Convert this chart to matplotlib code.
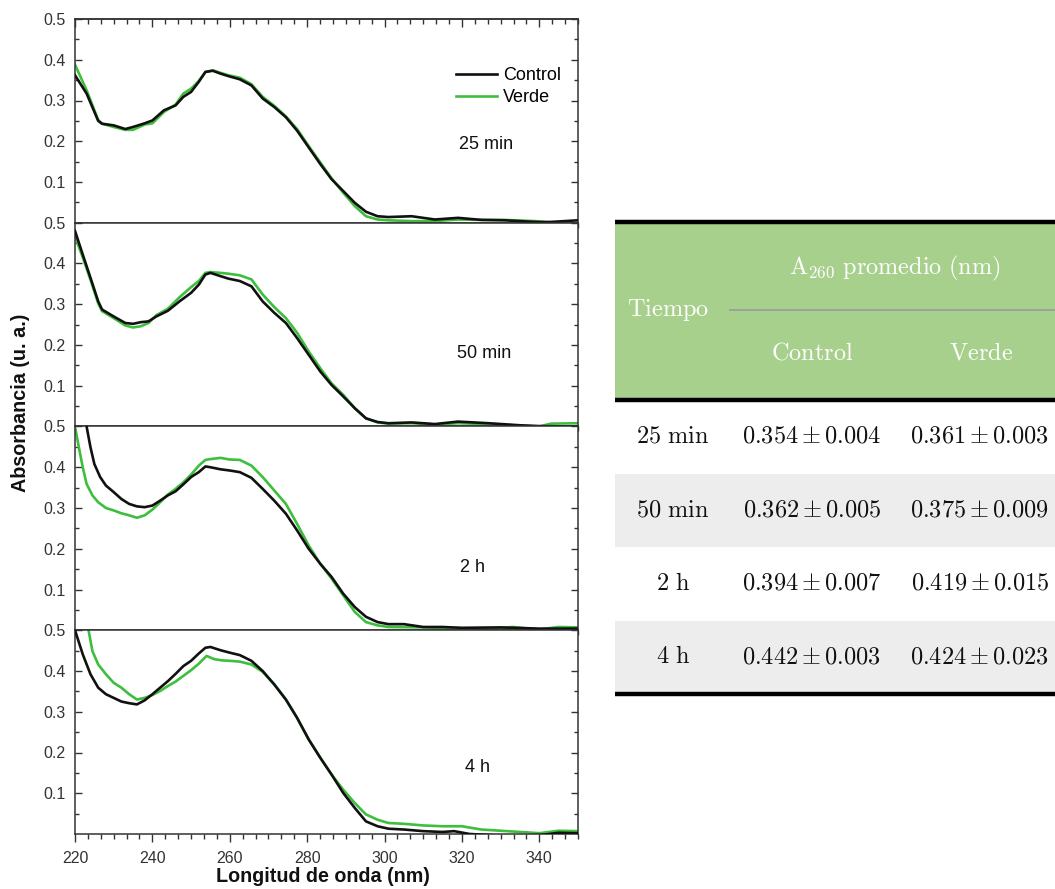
import numpy as np
import matplotlib
matplotlib.use('Agg')
import matplotlib.pyplot as plt
from matplotlib.ticker import MultipleLocator, FixedLocator

plt.rcParams['font.family'] = ['Liberation Sans', 'DejaVu Sans']
plt.rcParams['mathtext.fontset'] = 'cm'

# ---- spectra (nm, absorbance) ----
labels = ['25 min', '50 min', '2 h', '4 h']

wl_c1 = [220, 223, 226, 227, 230, 233, 235, 238, 240, 243, 246, 248, 250, 252, 253.7, 255.6, 257.6, 259.6,
         262.6, 265.6, 268.5, 271.5, 274.5, 277.4, 280.4, 283.4, 286.3, 289.3, 292.3, 295.2, 298.2, 301,
         307, 313, 319, 325, 331, 339, 343, 350]
ab_c1 = [0.362, 0.317, 0.25, 0.243, 0.239, 0.230, 0.235, 0.244, 0.251, 0.276, 0.288, 0.309, 0.321, 0.346,
         0.370, 0.373, 0.366, 0.360, 0.352, 0.337, 0.305, 0.284, 0.259, 0.226, 0.185, 0.144, 0.107, 0.078,
         0.049, 0.027, 0.016, 0.014, 0.016, 0.008, 0.012, 0.007, 0.006, 0.002, 0.002, 0.006]
wl_v1 = [220, 223, 226, 227, 230, 233, 235, 238, 240, 243, 246, 248, 250, 252, 253.7, 255.6, 257.6, 259.6,
         262.6, 265.6, 268.5, 271.5, 274.5, 277.4, 280.4, 283.4, 286.3, 289.3, 292.3, 295.2, 298.2, 301,
         307, 313, 319, 325, 331, 339, 341]
ab_v1 = [0.388, 0.325, 0.252, 0.243, 0.235, 0.228, 0.228, 0.241, 0.244, 0.272, 0.290, 0.317, 0.329, 0.348,
         0.370, 0.374, 0.368, 0.362, 0.356, 0.340, 0.309, 0.287, 0.261, 0.230, 0.188, 0.148, 0.109, 0.074,
         0.041, 0.016, 0.008, 0.006, 0.004, 0.004, 0.008, 0.007, 0.007, 0.004, 0.002]

wl_c2 = [220, 222, 224, 226, 227, 230, 233, 235, 237, 239, 241, 244, 247, 250, 252, 253.7, 255, 257.6,
         259.6, 262.6, 265.6, 268.5, 271.5, 274.5, 277.4, 280.4, 283.4, 286.3, 289.3, 292.3, 295.2, 298.2,
         301, 307, 313, 319, 327, 335, 340, 350]
ab_c2 = [0.48, 0.422, 0.365, 0.307, 0.287, 0.270, 0.254, 0.252, 0.256, 0.258, 0.270, 0.284, 0.307, 0.328,
         0.348, 0.373, 0.377, 0.369, 0.363, 0.357, 0.344, 0.307, 0.279, 0.254, 0.217, 0.176, 0.135, 0.102,
         0.074, 0.045, 0.020, 0.011, 0.008, 0.010, 0.006, 0.012, 0.008, 0.003, 0.001, 0.0]
wl_v2 = [220, 222, 224, 226, 227, 230, 233, 235, 237, 239, 241, 244, 247, 250, 252, 253.7, 255, 257.6,
         259.6, 262.6, 265.6, 268.5, 271.5, 274.5, 277.4, 280.4, 283.4, 286.3, 289.3, 292.3, 295.2, 298.2,
         301, 307, 313, 319, 327, 335, 340, 343, 350]
ab_v2 = [0.467, 0.415, 0.36, 0.302, 0.283, 0.266, 0.248, 0.243, 0.246, 0.254, 0.273, 0.289, 0.317, 0.342,
         0.357, 0.377, 0.379, 0.377, 0.375, 0.371, 0.361, 0.324, 0.293, 0.266, 0.230, 0.184, 0.143, 0.106,
         0.078, 0.045, 0.020, 0.010, 0.007, 0.008, 0.005, 0.008, 0.006, 0.002, 0.0, 0.007, 0.008]

wl_c3 = [220, 222, 223, 224, 225, 226.5, 228, 230, 232, 234, 236, 238, 240, 242, 244, 246, 248, 250, 252,
         253.7, 255, 257.6, 260, 262.6, 265.6, 268.5, 271.5, 274.5, 277.4, 280.4, 283.4, 286.3, 289.3, 292.3,
         295.2, 298.2, 301, 305, 310, 315, 320, 330, 340, 350]
ab_c3 = [0.62, 0.54, 0.50, 0.449, 0.408, 0.376, 0.355, 0.339, 0.322, 0.310, 0.304, 0.302, 0.306, 0.318,
         0.331, 0.341, 0.358, 0.376, 0.388, 0.402, 0.400, 0.395, 0.392, 0.388, 0.374, 0.347, 0.318, 0.286,
         0.245, 0.200, 0.163, 0.131, 0.090, 0.057, 0.033, 0.020, 0.015, 0.015, 0.008, 0.008, 0.006, 0.007,
         0.004, 0.004]
wl_v3 = [219, 220, 221, 222, 223, 224.5, 226, 228, 230, 232, 234, 236, 238, 240, 242, 244, 246, 248, 250,
         252, 253.7, 255, 257.6, 260, 262.6, 265.6, 268.5, 271.5, 274.5, 277.4, 280.4, 283.4, 286.3, 289.3,
         292.3, 295.2, 298.2, 301, 310, 320, 327, 333, 340, 345, 350]
ab_v3 = [0.56, 0.50, 0.449, 0.40, 0.359, 0.331, 0.314, 0.300, 0.294, 0.287, 0.282, 0.276, 0.282, 0.296,
         0.314, 0.333, 0.347, 0.363, 0.382, 0.404, 0.418, 0.420, 0.423, 0.419, 0.418, 0.404, 0.376, 0.343,
         0.310, 0.261, 0.208, 0.163, 0.127, 0.086, 0.045, 0.020, 0.012, 0.008, 0.007, 0.004, 0.002, 0.008,
         0.002, 0.008, 0.007]

wl_c4 = [219, 220, 222, 224, 226, 228, 230, 232, 234, 236, 238, 240, 242, 244, 246, 248, 250, 252, 253.7,
         255, 257.6, 260, 262.6, 265.6, 268.5, 271.5, 274.5, 277.4, 280.4, 283.4, 286.3, 289.3, 292.3, 295.2,
         298.2, 301, 305, 310, 315, 318, 322, 330, 340, 345, 350]
ab_c4 = [0.54, 0.50, 0.441, 0.392, 0.359, 0.343, 0.334, 0.325, 0.321, 0.318, 0.328, 0.343, 0.359, 0.375,
         0.393, 0.412, 0.425, 0.443, 0.457, 0.459, 0.451, 0.445, 0.439, 0.425, 0.400, 0.367, 0.330, 0.285,
         0.232, 0.187, 0.146, 0.101, 0.064, 0.031, 0.019, 0.013, 0.011, 0.007, 0.005, 0.007, 0.0, -0.004,
         -0.003, 0.003, 0.002]
wl_v4 = [222.5, 223.5, 224.5, 226, 228, 230, 232, 234, 236, 238, 240, 242, 244, 246, 248, 250, 252, 254, 256,
         258, 260, 262.6, 265.6, 268.5, 271.5, 274.5, 277.4, 280.4, 283.4, 286.3, 289.3, 292.3, 295.2, 298.2,
         301, 305, 310, 315, 320, 325, 330, 335, 340, 345, 350]
ab_v4 = [0.55, 0.50, 0.449, 0.416, 0.392, 0.371, 0.359, 0.343, 0.330, 0.334, 0.341, 0.351, 0.363, 0.374,
         0.388, 0.402, 0.418, 0.437, 0.429, 0.426, 0.425, 0.423, 0.416, 0.398, 0.367, 0.330, 0.285, 0.232,
         0.187, 0.146, 0.109, 0.076, 0.048, 0.035, 0.027, 0.025, 0.021, 0.019, 0.019, 0.011, 0.008, 0.005,
         0.002, 0.008, 0.007]

control = [(wl_c1, ab_c1), (wl_c2, ab_c2), (wl_c3, ab_c3), (wl_c4, ab_c4)]
verde = [(wl_v1, ab_v1), (wl_v2, ab_v2), (wl_v3, ab_v3), (wl_v4, ab_v4)]

# ---- table values ----
tiempos = ['25 min', '50 min', '2 h', '4 h']
ctrl_mean = ['0.354', '0.362', '0.394', '0.442']
ctrl_sd = ['0.004', '0.005', '0.007', '0.003']
verde_mean = ['0.361', '0.375', '0.419', '0.424']
verde_sd = ['0.003', '0.009', '0.015', '0.023']

W, H = 1055, 889
fig = plt.figure(figsize=(W / 100, H / 100), dpi=100)

left, right = 75, 578
top, bottom = 19, 834
ph = (bottom - top) / 4
lab_pos = [(0.817, 0.386), (0.813, 0.359), (0.79, 0.31), (0.80, 0.325)]
black = '#111111'
green = '#3dbf3d'
tcol = '#333333'
xmaj = [220, 240, 260, 280, 300, 320, 340]

for i in range(4):
    y0 = top + i * ph
    ax = fig.add_axes([left / W, 1 - (y0 + ph) / H, (right - left) / W, ph / H])
    ax.plot(*control[i], color=black, lw=1.9, label='Control', zorder=3)
    ax.plot(*verde[i], color=green, lw=1.9, label='Verde', zorder=2)
    ax.set_xlim(220, 350)
    ax.set_ylim(0, 0.5)
    ax.xaxis.set_major_locator(FixedLocator(xmaj))
    ax.xaxis.set_minor_locator(MultipleLocator(20 / 6))
    ax.set_yticks([0.1, 0.2, 0.3, 0.4, 0.5])
    ax.set_yticklabels(['0.1', '0.2', '0.3', '0.4', '0.5'])
    ax.yaxis.set_minor_locator(FixedLocator([0.05, 0.15, 0.25, 0.35, 0.45]))
    ax.tick_params(axis='y', which='both', direction='in', left=True, right=True,
                   labelsize=11.5, labelcolor=tcol, color=tcol, pad=7)
    ax.tick_params(axis='y', which='major', length=5, width=1)
    ax.tick_params(axis='y', which='minor', length=3, width=1)
    ax.tick_params(axis='x', which='both', direction='out', top=False, bottom=True,
                   labelsize=11.5, labelcolor=tcol, color=tcol, pad=6)
    ax.tick_params(axis='x', which='major', length=6, width=1)
    ax.tick_params(axis='x', which='minor', length=3.5, width=1)
    if i == 0:
        sec = ax.secondary_xaxis('top')
        sec.xaxis.set_major_locator(FixedLocator(xmaj))
        sec.xaxis.set_minor_locator(MultipleLocator(20 / 6))
        sec.tick_params(which='both', direction='in', labeltop=False, color=tcol, width=1)
        sec.tick_params(which='major', length=6)
        sec.tick_params(which='minor', length=3.5)
        sec.spines['top'].set_color(tcol)
        sec.spines['top'].set_linewidth(1.1)
    if i < 3:
        ax.tick_params(axis='x', labelbottom=False)
    for s in ax.spines.values():
        s.set_color(tcol)
        s.set_linewidth(1.1)
    ax.text(lab_pos[i][0], lab_pos[i][1], labels[i], transform=ax.transAxes,
            ha='center', va='center', fontsize=13, color='#111111')
    if i == 0:
        ax.legend(loc='upper left', bbox_to_anchor=(0.757, 0.765), frameon=False, fontsize=13,
                  handlelength=2.3, handletextpad=0.3, labelspacing=0.28, borderaxespad=0,
                  borderpad=0)

fig.text(21 / W, 1 - 403 / H, 'Absorbancia (u. a.)', rotation=90, ha='center', va='center',
         fontsize=14.2, fontweight='bold', color='#111111')
fig.text(323 / W, 1 - 876 / H, 'Longitud de onda (nm)', ha='center', va='center',
         fontsize=14.2, fontweight='bold', color='#111111')

# ---- table on the right ----
tx0, tx1 = 615, 1055
ty0, ty1 = 218, 702
tab = fig.add_axes([tx0 / W, 1 - ty1 / H, (tx1 - tx0) / W, (ty1 - ty0) / H])
tab.set_xlim(tx0, tx1)
tab.set_ylim(ty1, ty0)
tab.axis('off')

head_top, head_bot = 222, 400
row_h = 73.5
tab.fill_between([tx0, tx1], head_top, head_bot, color='#a8d08d', lw=0)
for r in range(len(tiempos)):
    ya = head_bot + r * row_h
    if r % 2 == 1:
        tab.fill_between([tx0, tx1], ya, ya + row_h, color='#ededed', lw=0)
for yl in [head_top, head_bot, head_bot + 4 * row_h]:
    tab.plot([tx0, tx1], [yl, yl], color='black', lw=3.2, solid_capstyle='butt')
tab.plot([730, tx1], [310, 310], color='#999999', lw=1.2)

col_x = [673, 812, 980]
fs = 17.5
tab.text(668, 310, r'$\mathrm{Tiempo}$', ha='center', va='center', fontsize=fs, color='white')
tab.text(895, 268, r'$\mathrm{A_{260}\ promedio\ (nm)}$', ha='center', va='center', fontsize=fs,
         color='white')
tab.text(col_x[1], 353, r'$\mathrm{Control}$', ha='center', va='center', fontsize=fs, color='white')
tab.text(col_x[2] + 1, 353, r'$\mathrm{Verde}$', ha='center', va='center', fontsize=fs, color='white')

for r in range(len(tiempos)):
    yc = head_bot + r * row_h + row_h / 2
    tab.text(col_x[0], yc, r'$\mathrm{' + tiempos[r].replace(' ', r'\ ') + '}$',
             ha='center', va='center', fontsize=fs, color='#111111')
    tab.text(col_x[1], yc, '$' + ctrl_mean[r] + r' \pm ' + ctrl_sd[r] + '$',
             ha='center', va='center', fontsize=fs, color='#111111')
    tab.text(col_x[2], yc, '$' + verde_mean[r] + r' \pm ' + verde_sd[r] + '$',
             ha='center', va='center', fontsize=fs, color='#111111')

fig.savefig('out.png', dpi=100)
